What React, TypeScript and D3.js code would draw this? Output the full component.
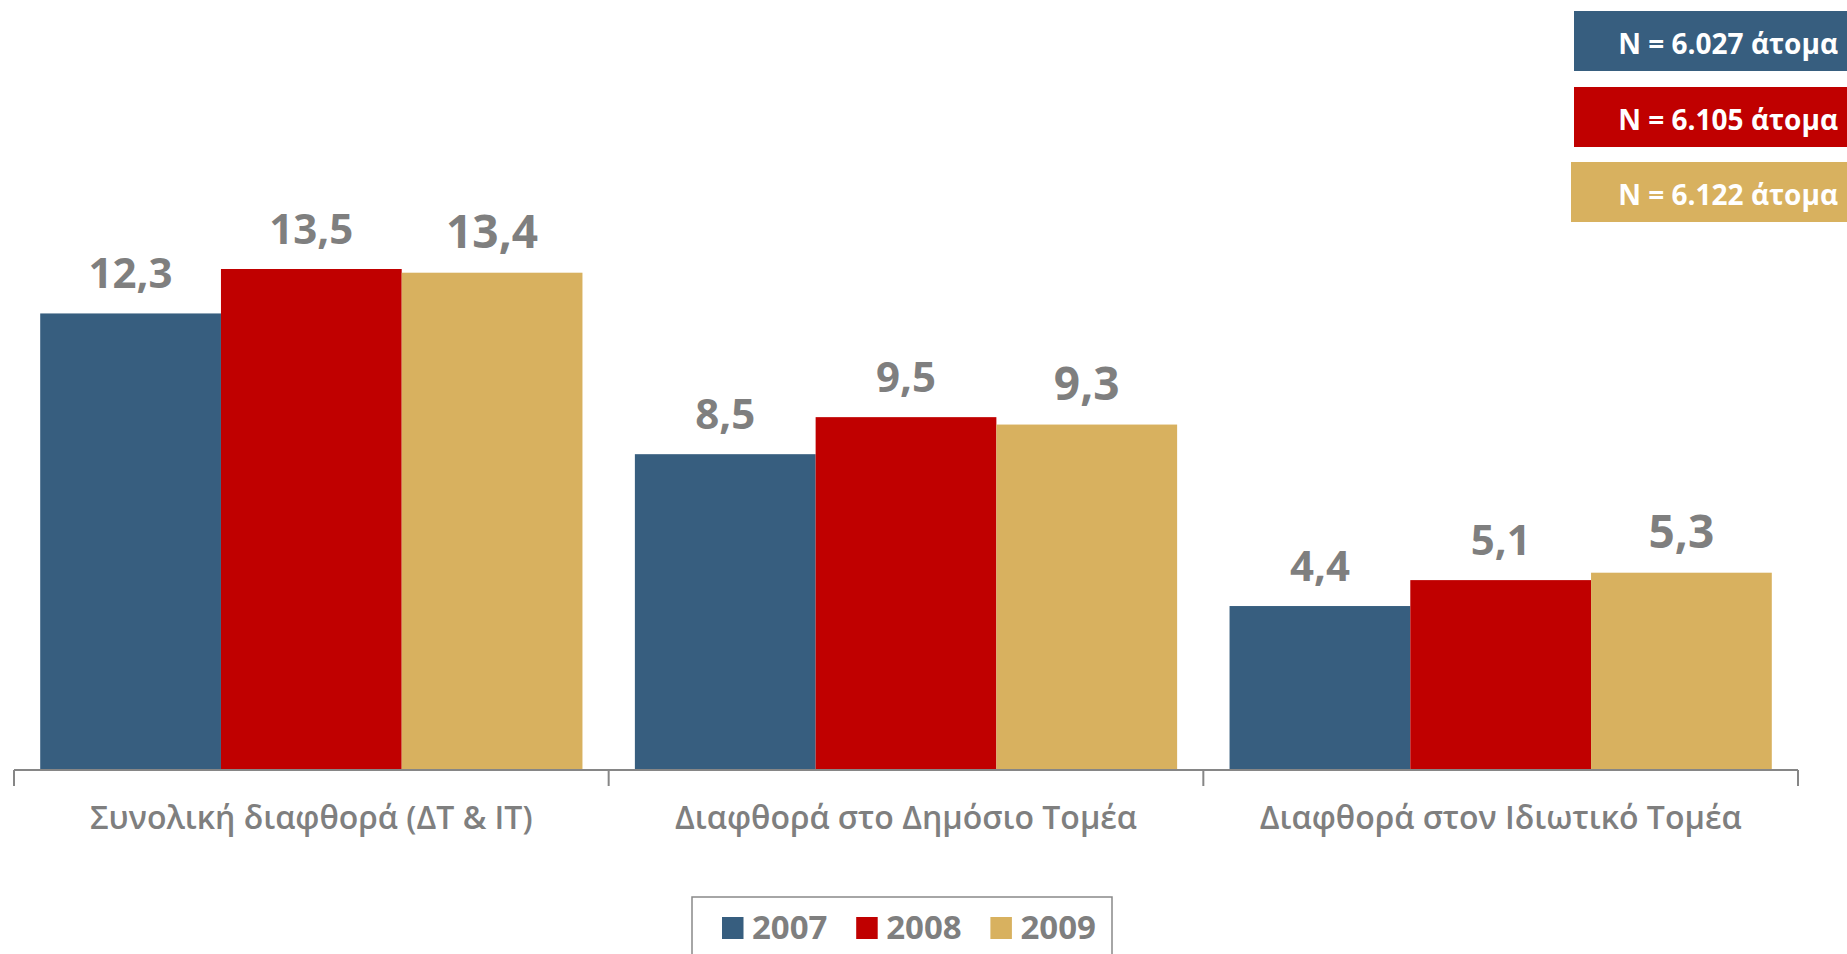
import React from 'react';
import * as d3 from 'd3';

const categories = [
  'Συνολική διαφθορά (ΔΤ & ΙΤ)',
  'Διαφθορά στο Δημόσιο Τομέα',
  'Διαφθορά στον Ιδιωτικό Τομέα',
];
const years = ['2007', '2008', '2009'];
const values2007 = [12.3, 8.5, 4.4];
const values2008 = [13.5, 9.5, 5.1];
const values2009 = [13.4, 9.3, 5.3];
const sampleSizes = ['N = 6.027 άτομα', 'N = 6.105 άτομα', 'N = 6.122 άτομα'];

const seriesValues = [values2007, values2008, values2009];
const colors = ['#375E7F', '#C00000', '#D8B15F'];
const labelSizes = [42, 42, 46];

const W = 1847;
const H = 954;
const FONT = "'Open Sans', 'Noto Sans', sans-serif";
const GREY = '#7F7F7F';

const fmt = d3.formatLocale({ decimal: ',', thousands: '.', grouping: [3], currency: ['', '€'] }).format('.1f');

export default function App() {
  const x0 = d3.scaleBand<string>().domain(categories).range([14, 1798]).paddingInner(0).paddingOuter(0);
  const x1 = d3.scaleBand<string>().domain(years).range([0, x0.bandwidth()]).paddingInner(0).paddingOuter(0.145);
  const baseline = 769;
  const y = d3.scaleLinear().domain([0, 13.5]).range([baseline, 269]);

  const legendStart = 722;
  const legendStep = 134.2;

  return (
    <svg
      width={W}
      height={H}
      viewBox={`0 0 ${W} ${H}`}
      style={{ position: 'absolute', left: 0, top: 0, display: 'block', background: '#fff' }}
      fontFamily={FONT}
    >
      {/* bars */}
      {categories.map((cat, ci) => (
        <g key={cat} transform={`translate(${x0(cat)},0)`}>
          {years.map((yr, si) => {
            const v = seriesValues[si][ci];
            const bx = x1(yr)!;
            return (
              <g key={yr}>
                <rect x={bx} y={y(v)} width={x1.bandwidth()} height={baseline - y(v)} fill={colors[si]} />
                <text
                  x={bx + x1.bandwidth() / 2}
                  y={y(v) - 25}
                  textAnchor="middle"
                  fontSize={labelSizes[si]}
                  fontWeight={700}
                  fill={GREY}
                >
                  {fmt(v)}
                </text>
              </g>
            );
          })}
        </g>
      ))}

      {/* axis */}
      <line x1={14} x2={1798} y1={770} y2={770} stroke="#868686" strokeWidth={2} />
      {[...categories.map((c) => x0(c)!), 1798].map((tx, i) => (
        <line key={i} x1={tx} x2={tx} y1={770} y2={786} stroke="#868686" strokeWidth={2} />
      ))}
      {categories.map((cat) => (
        <text
          key={cat}
          x={x0(cat)! + x0.bandwidth() / 2}
          y={829}
          textAnchor="middle"
          fontSize={32}
          fontWeight={600}
          fill={GREY}
        >
          {cat}
        </text>
      ))}

      {/* legend */}
      <rect x={692} y={897} width={420} height={80} fill="#fff" stroke="#898989" strokeWidth={1.5} />
      {years.map((yr, i) => (
        <g key={yr} transform={`translate(${legendStart + i * legendStep},0)`}>
          <rect x={0} y={917} width={21.5} height={22} fill={colors[i]} />
          <text x={30} y={939} fontSize={33} fontWeight={700} fill={GREY}>
            {yr}
          </text>
        </g>
      ))}

      {/* sample size boxes */}
      {sampleSizes.map((s, i) => {
        const top = [11, 87, 162][i];
        const left = [1574, 1574, 1571][i];
        return (
          <g key={s}>
            <rect x={left} y={top} width={W - left} height={60} fill={colors[i]} />
            <text x={1838} y={top + 43} textAnchor="end" fontSize={28} fontWeight={700} fill="#fff">
              {s}
            </text>
          </g>
        );
      })}
    </svg>
  );
}
